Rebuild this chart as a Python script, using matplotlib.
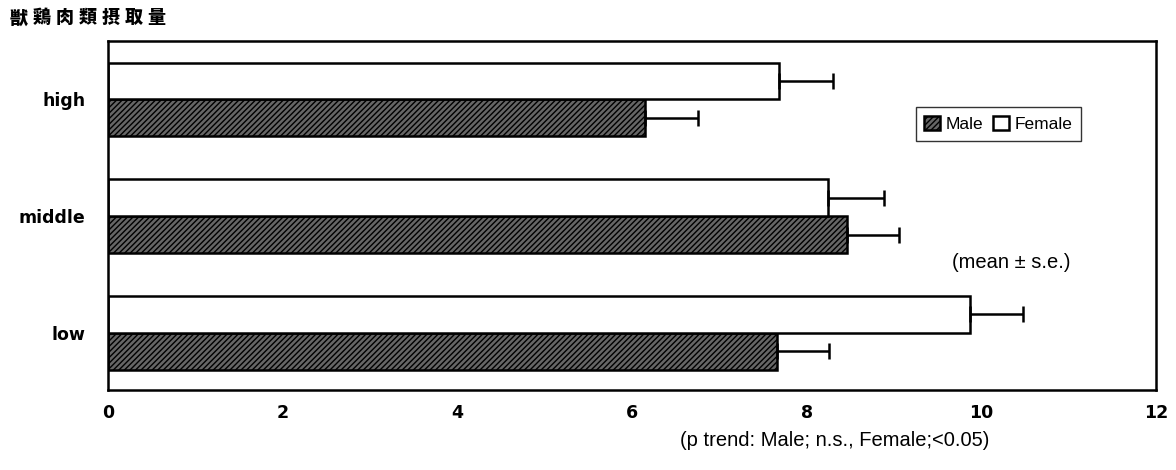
import matplotlib
matplotlib.use("Agg")
import matplotlib.pyplot as plt
import numpy as np

plt.rcParams['font.family'] = ['Noto Sans CJK JP', 'DejaVu Sans']
plt.rcParams['hatch.linewidth'] = 1.0

# data
levels = ["low", "middle", "high"]
male_mean = [7.66, 8.46, 6.15]
male_se = [0.60, 0.60, 0.61]
female_mean = [9.87, 8.24, 7.68]
female_se = [0.61, 0.65, 0.62]
title = "獣鶏肉類摂取量"

fig = plt.figure(figsize=(11.76, 4.70), dpi=100)
ax = fig.add_axes([0.0918, 0.170, 0.8912, 0.7425])

y = np.arange(len(levels))
h = 0.316
ekw = dict(ecolor="black", elinewidth=1.8, capsize=6, capthick=1.8)

ax.barh(y - h / 2, male_mean, height=h, color="#666666", edgecolor="black",
        hatch="//////", linewidth=1.8, label="Male",
        xerr=[np.zeros(3), male_se], error_kw=ekw)
ax.barh(y + h / 2, female_mean, height=h, color="white", edgecolor="black",
        linewidth=1.8, label="Female",
        xerr=[np.zeros(3), female_se], error_kw=ekw)

ax.set_xlim(0, 12)
ax.set_ylim(-0.49, 2.5)
ax.set_xticks(range(0, 13, 2))
ax.set_yticks(y)
ax.set_yticklabels(levels, fontweight="bold", fontsize=12.5, family="DejaVu Sans")
for lab in ax.get_xticklabels():
    lab.set_fontweight("bold")
    lab.set_fontsize(12.5)
    lab.set_family("DejaVu Sans")
ax.tick_params(length=0)
ax.tick_params(axis="x", pad=10)
ax.tick_params(axis="y", pad=16)
for s in ax.spines.values():
    s.set_linewidth(1.8)

leg = ax.legend(loc="upper left", bbox_to_anchor=(0.7625, 0.836), ncol=2, frameon=True,
                fancybox=False, edgecolor="black",
                prop=dict(family="Liberation Sans", size=12.5), handlelength=0.9,
                handleheight=0.9, handletextpad=0.3, columnspacing=0.6, borderpad=0.5)
leg.get_frame().set_linewidth(1.0)

ax.text(0.805, 0.365, "(mean ± s.e.)", transform=ax.transAxes, fontsize=14.5,
        family="Liberation Sans", ha="left", va="center")
fig.text(0.578, 0.063, "(p trend: Male; n.s., Female;<0.05)", fontsize=14.5,
         family="Liberation Sans", ha="left", va="center")
for i, ch in enumerate(title):
    fig.text(0.008 + i * 0.0196, 0.962, ch, fontsize=13, fontweight="heavy",
             ha="left", va="center")

fig.savefig("out.png", dpi=100)
